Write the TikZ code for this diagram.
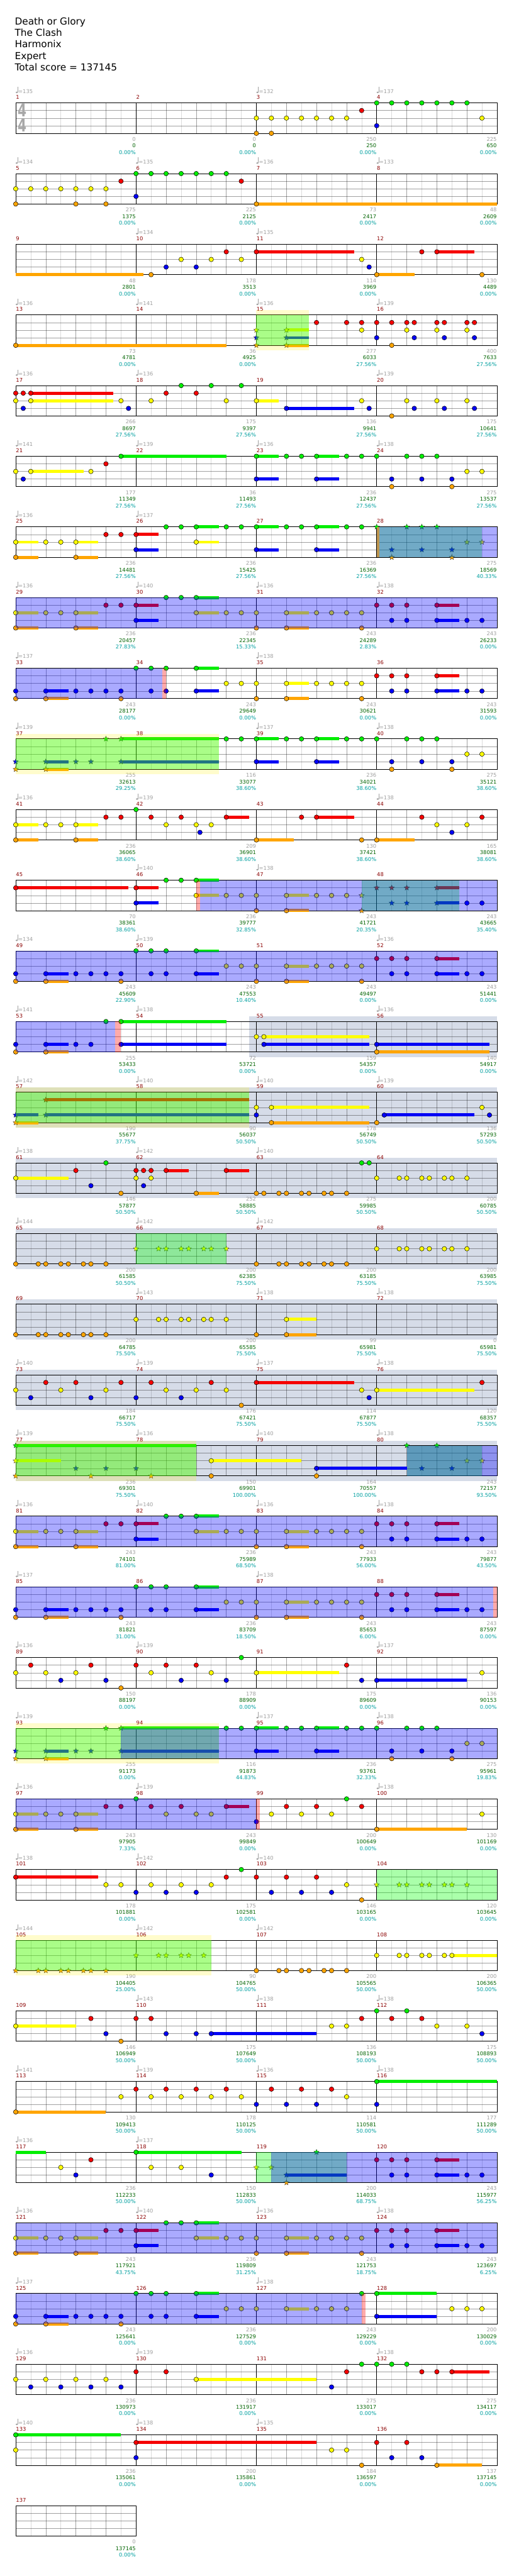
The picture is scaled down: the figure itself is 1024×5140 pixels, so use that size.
\documentclass[tikz,border=0pt]{standalone}
\usepackage{fontspec}
\setmainfont{DejaVu Sans}
\usetikzlibrary{shapes.geometric}
\pgfdeclarelayer{bands}
\pgfdeclarelayer{grid}
\pgfdeclarelayer{sus}
\pgfdeclarelayer{over}
\pgfsetlayers{bands,grid,sus,main,over}
\definecolor{lane0}{RGB}{0,238,0}
\definecolor{lane1}{RGB}{245,0,0}
\definecolor{lane2}{RGB}{255,255,0}
\definecolor{lane3}{RGB}{0,0,245}
\definecolor{lane4}{RGB}{255,165,0}
\definecolor{mnum}{RGB}{139,0,0}
\definecolor{tgray}{RGB}{160,160,160}
\definecolor{sgreen}{RGB}{0,100,0}
\definecolor{pteal}{RGB}{0,160,160}
\definecolor{gbband}{RGB}{214,220,232}
\definecolor{tsgray}{RGB}{168,168,168}
\definecolor{tanstrip}{RGB}{190,150,80}
\newcommand\smallf{\fontsize{14.9}{18}\selectfont}
\newcommand\titlef{\fontsize{27.3}{33}\selectfont}
\newcommand\tsf{\fontsize{50}{60}\selectfont\bfseries}
\tikzset{
  lline/.style={draw=black,draw opacity=0.14,line width=1pt},
  dline/.style={draw=black,draw opacity=0.37,line width=1pt},
  mline/.style={draw=black,line width=1.5pt},
  notest/.style={draw=black,line width=0.9pt},
  starst/.style={star,star points=5,star point ratio=2.2,minimum size=16pt,inner sep=0pt,draw=black!80,line width=0.6pt},
  lbst/.style={anchor=base east,inner sep=0pt,font=\smallf},
  mnst/.style={anchor=base west,inner sep=0pt,font=\smallf,text=mnum},
  tpst/.style={anchor=base west,inner sep=0pt,font=\smallf,text=tgray},
  titlest/.style={anchor=base west,inner sep=0pt,font=\titlef},
}
\newcommand\cRow[3]{%
  \pgfmathsetmacro\ry{205.33+141*#1}%
  \begin{pgfonlayer}{grid}
  \pgfmathtruncatemacro\nb{8*#2-1}%
  \foreach \j in {1,...,\nb}{%
    \pgfmathtruncatemacro\mA{mod(\j,8)}%
    \pgfmathtruncatemacro\mB{mod(\j,2)}%
    \ifnum\mA=0 \def\gs{mline}\else\ifnum\mB=0 \def\gs{dline}\else\def\gs{lline}\fi\fi
    \draw[\gs] ({31.33+30*\j},\ry) -- ({31.33+30*\j},{\ry+60.67});
  }
  \foreach \i in {1,2,3} \draw[dline] (31.33,{\ry+15.17*\i}) -- ({31.33+240*#2},{\ry+15.17*\i});
  \draw[mline] (31.33,\ry) rectangle ({31.33+240*#2},{\ry+60.67});
  \end{pgfonlayer}
  \pgfmathtruncatemacro\nm{#2-1}%
  \foreach \k in {0,...,\nm}{%
    \pgfmathtruncatemacro\mnr{#3+\k}%
    \node[mnst] at ({31.83+240*\k},{\ry-7.3}) {\mnr};
  }%
}
\newcommand\cTp[2]{%
  \fill[tgray] ({33.33+240*#1},{\ry-21}) ellipse [x radius=2.3, y radius=1.7];
  \draw[tgray,line width=0.9pt] ({35.4+240*#1},{\ry-21}) -- ({35.4+240*#1},{\ry-32});
  \node[tpst] at ({36.5+240*#1},{\ry-19.6}) {=#2};}
\newcommand\cLb[4]{%
  \node[lbst,text=tgray] at ({270.8+240*#1},{\ry+76.3}) {#2};
  \node[lbst,text=sgreen] at ({270.8+240*#1},{\ry+89.4}) {#3};
  \node[lbst,text=pteal] at ({270.8+240*#1},{\ry+102.6}) {#4};}
\newcommand\cNt[2]{\filldraw[fill=lane#2,notest] ({31.33+15*#1},{\ry+15.17*#2}) circle [radius=4.6];}
\newcommand\cSb[3]{\begin{pgfonlayer}{sus}\fill[lane#2] ({31.33+15*#1},{\ry+15.17*#2-3.1}) rectangle ({31.33+15*#3},{\ry+15.17*#2+3.1});\end{pgfonlayer}}
\newcommand\cNs[3]{\cSb{#1}{#2}{#3}\cNt{#1}{#2}}
\newcommand\cSr[2]{\node[starst,fill=lane#2] at ({31.33+15*#1},{\ry+15.17*#2}) {};}
\newcommand\cSs[3]{\cSb{#1}{#2}{#3}\cSr{#1}{#2}}
\newcommand\cNm[2]{\foreach \u in {#2} {\cNt{\u}{#1}}}
\newcommand\cSm[2]{\foreach \u in {#2} {\cSr{\u}{#1}}}
\newcommand\cOD[2]{\begin{pgfonlayer}{over}\fill[blue,fill opacity=0.333] ({31.33+15*#1},\ry) rectangle ({31.33+15*#2},{\ry+60.67});\end{pgfonlayer}}
\newcommand\cGR[2]{\begin{pgfonlayer}{over}\fill[green,fill opacity=0.333] ({31.33+15*#1},\ry) rectangle ({31.33+15*#2},{\ry+60.67});\end{pgfonlayer}}
\newcommand\cYB[2]{\begin{pgfonlayer}{over}\fill[yellow,fill opacity=0.2] ({31.33+15*#1},{\ry-10}) rectangle ({31.33+15*#2},{\ry+70.67});\end{pgfonlayer}}
\newcommand\cPK[2]{\begin{pgfonlayer}{over}\fill[red,fill opacity=0.333] ({31.33+15*#1},\ry) rectangle ({31.33+15*#2},{\ry+60.67});\end{pgfonlayer}}
\newcommand\cTan[2]{\begin{pgfonlayer}{over}\fill[tanstrip] ({31.33+15*#1},\ry) rectangle ({31.33+15*#2},{\ry+60.67});\end{pgfonlayer}}
\newcommand\cGB[2]{\begin{pgfonlayer}{bands}\fill[gbband] ({31.33+15*#1},{\ry-10}) rectangle ({31.33+15*#2},{\ry+70.67});\end{pgfonlayer}}
% common phrase patterns
\newcommand\cPatA{\cNs{0}{2}{3}\cNs{0}{4}{3}\cNm{2}{4,6}\cNs{8}{2}{11}\cNs{8}{4}{11}\cNm{1}{12,14}\cNs{16}{1}{19}\cNs{16}{3}{19}\cNm{0}{20,22}\cNs{24}{0}{27}\cNs{24}{2}{27}}
\newcommand\cPatB{\cNt{0}{3}\cNt{0}{4}\cNs{4}{3}{7}\cNs{4}{4}{7}\cNm{3}{8,10,12,14}\cNt{14}{4}\cNm{0}{16,18,20}\cNm{3}{18,20}\cNs{24}{0}{27}\cNs{24}{3}{27}}
\newcommand\cPatC{\cNm{2}{28,30,32}\cNt{32}{4}\cNs{36}{2}{39}\cNs{36}{4}{39}\cNm{2}{40,42,44,46}\cNt{46}{4}\cNm{1}{48,50,52}\cNs{56}{1}{59}\cNm{3}{50,52,60,62}\cNs{56}{3}{59}}
\newcommand\cPatD{\cNm{0}{28,30}\cNs{32}{0}{35}\cNs{32}{3}{35}\cNm{0}{36,38}\cNs{40}{0}{43}\cNs{40}{3}{43}\cNm{0}{44,46,48,52,54,56}\cNm{3}{50,54,58}\cNm{4}{50,58}\cNm{2}{60,62}}
\begin{document}
\begin{tikzpicture}[x=0.5mm,y=-0.5mm]
\begin{pgfonlayer}{bands}
\fill[white] (0,0) rectangle (1024,5140);
\end{pgfonlayer}
\useasboundingbox (0,0) rectangle (1024,5140);
\node[titlest] at (29.5,49) {Death or Glory};
\node[titlest] at (29.5,72.3) {The Clash};
\node[titlest] at (29.5,95.3) {Harmonix};
\node[titlest] at (29.5,118.3) {Expert};
\node[titlest] at (29.5,141.3) {Total score = 137145};
\node[text=tsgray,font=\tsf,xscale=0.72,inner sep=0] at (44,220) {4};
\node[text=tsgray,font=\tsf,xscale=0.72,inner sep=0] at (44,250) {4};
% ---------- row 0 : m1-4
\cRow{0}{4}{1}
\cTp{0}{135}\cTp{2}{132}\cTp{3}{137}
\cNm{2}{32,34,...,44}\cNm{4}{32,34}\cNt{46}{1}\cNm{0}{48,50,...,60}\cNt{48}{3}\cNt{62}{2}
\cLb{0}{0}{0}{0.00\%}\cLb{1}{0}{0}{0.00\%}\cLb{2}{250}{250}{0.00\%}\cLb{3}{225}{650}{0.00\%}
% ---------- row 1 : m5-8
\cRow{1}{4}{5}
\cTp{0}{134}\cTp{1}{135}\cTp{2}{136}\cTp{3}{133}
\cNm{2}{0,2,...,12}\cNm{4}{0,8,12}\cNt{14}{1}\cNm{0}{16,18,...,28}\cNt{16}{3}\cNt{30}{1}\cNs{32}{4}{64}
\cLb{0}{275}{1375}{0.00\%}\cLb{1}{225}{2125}{0.00\%}\cLb{2}{73}{2417}{0.00\%}\cLb{3}{48}{2609}{0.00\%}
% ---------- row 2 : m9-12
\cRow{2}{4}{9}
\cTp{1}{134}\cTp{2}{135}
\cSb{0}{4}{17}\cNt{18}{4}\cNm{3}{20,24}\cNm{2}{22,26,30}\cNt{28}{1}\cNs{32}{1}{45}\cNt{46}{2}\cNt{47}{3}
\cNs{48}{4}{53}\cNt{54}{1}\cNs{56}{1}{61}\cNt{62}{4}
\cLb{0}{48}{2801}{0.00\%}\cLb{1}{178}{3513}{0.00\%}\cLb{2}{114}{3969}{0.00\%}\cLb{3}{130}{4489}{0.00\%}
% ---------- row 3 : m13-16
\cRow{3}{4}{13}
\cTp{0}{136}\cTp{1}{141}\cTp{2}{136}\cTp{3}{139}
\cNs{0}{4}{28}
\cYB{32}{39}\cGR{32}{39}
\cSm{2}{32}\cSm{3}{32}\cSm{4}{32}\cSs{36}{2}{39}\cSs{36}{3}{39}\cSs{36}{4}{39}
\cNm{1}{40,44,46,48,50,52,53,56,57,60,61}\cNm{2}{46,52,56,60}\cNm{3}{48,53,57,61}\cNt{50}{4}
\cLb{0}{73}{4781}{0.00\%}\cLb{1}{36}{4925}{0.00\%}\cLb{2}{277}{6033}{27.56\%}\cLb{3}{400}{7633}{27.56\%}
% ---------- row 4 : m17-20
\cRow{4}{4}{17}
\cTp{0}{136}\cTp{1}{136}\cTp{3}{139}
\cNm{1}{0,1}\cNs{2}{1}{13}\cNt{0}{2}\cNs{2}{2}{13}\cNt{1}{3}\cNt{14}{2}\cNt{15}{3}
\cNm{2}{18,28}\cNm{1}{20,24}\cNm{0}{22,26,30}
\cNs{32}{2}{35}\cNs{36}{3}{45}\cNm{2}{46,52,56,60}\cNm{3}{47,53,57,61}\cNt{50}{4}
\cLb{0}{266}{8697}{27.56\%}\cLb{1}{175}{9397}{27.56\%}\cLb{2}{136}{9941}{27.56\%}\cLb{3}{175}{10641}{27.56\%}
% ---------- row 5 : m21-24
\cRow{5}{4}{21}
\cTp{0}{141}\cTp{1}{139}\cTp{2}{136}\cTp{3}{138}
\cNt{0}{2}\cNs{2}{2}{9}\cNt{1}{3}\cNt{10}{2}\cNt{12}{1}\cNs{14}{0}{28}
\cNs{32}{0}{35}\cNs{32}{3}{35}\cNm{0}{36,38}\cNs{40}{0}{43}\cNs{40}{3}{43}\cNm{0}{44,46,48,52,54,56}
\cNm{3}{50,54,58}\cNm{4}{50,58}\cNm{2}{60,62}
\cLb{0}{177}{11349}{27.56\%}\cLb{1}{36}{11493}{27.56\%}\cLb{2}{236}{12437}{27.56\%}\cLb{3}{275}{13537}{27.56\%}
% ---------- row 6 : m25-28
\cRow{6}{4}{25}
\cTp{0}{136}\cTp{1}{137}
\cPatA\cNm{0}{28,30}\cNs{32}{0}{35}\cNs{32}{3}{35}\cNm{0}{36,38}
\cNs{40}{0}{43}\cNs{40}{3}{43}\cNm{0}{44,46}
\cSm{0}{48,52,54,56}\cSm{3}{50,54,58}\cSm{4}{50,58}\cSm{2}{60,62}
\cGR{48}{62}\cOD{48}{64}\cTan{48}{48.35}
\cLb{0}{236}{14481}{27.56\%}\cLb{1}{236}{15425}{27.56\%}\cLb{2}{236}{16369}{27.56\%}\cLb{3}{275}{18569}{40.33\%}
% ---------- row 7 : m29-32
\cRow{7}{4}{29}
\cTp{0}{136}\cTp{1}{140}\cTp{2}{136}\cTp{3}{138}
\cPatA\cPatC
\cOD{0}{64}
\cLb{0}{236}{20457}{27.83\%}\cLb{1}{236}{22345}{15.33\%}\cLb{2}{243}{24289}{2.83\%}\cLb{3}{243}{26233}{0.00\%}
% ---------- row 8 : m33-36
\cRow{8}{4}{33}
\cTp{0}{137}\cTp{2}{138}
\cPatB\cPatC
\cOD{0}{19.5}\cPK{19.5}{20}
\cLb{0}{243}{28177}{0.00\%}\cLb{1}{243}{29649}{0.00\%}\cLb{2}{243}{30621}{0.00\%}\cLb{3}{243}{31593}{0.00\%}
% ---------- row 9 : m37-40
\cRow{9}{4}{37}
\cTp{0}{139}\cTp{2}{137}\cTp{3}{138}
\cYB{0}{27}\cGR{0}{27}
\cSm{3}{0}\cSm{4}{0}\cSs{4}{3}{7}\cSs{4}{4}{7}\cSm{3}{8,10}\cSm{0}{12}\cSs{14}{0}{27}\cSs{14}{3}{27}
\cPatD
\cLb{0}{255}{32613}{29.25\%}\cLb{1}{116}{33077}{38.60\%}\cLb{2}{236}{34021}{38.60\%}\cLb{3}{275}{35121}{38.60\%}
% ---------- row 10 : m41-44
\cRow{10}{4}{41}
\cTp{0}{136}\cTp{1}{139}\cTp{3}{138}
\cNs{0}{2}{3}\cNs{0}{4}{3}\cNm{2}{4,6}\cNs{8}{2}{11}\cNs{8}{4}{11}\cNm{1}{12,14,18,22}\cNt{16}{0}
\cNm{2}{20,24,26}\cNt{24.5}{3}\cNs{28}{1}{31}\cNs{32}{4}{37}\cNt{38}{1}\cNs{40}{1}{45}\cNt{46}{4}
\cNs{48}{4}{53}\cNm{1}{54,62}\cNm{2}{56,60}\cNt{58}{3}
\cLb{0}{236}{36065}{38.60\%}\cLb{1}{209}{36901}{38.60\%}\cLb{2}{130}{37421}{38.60\%}\cLb{3}{165}{38081}{38.60\%}
% ---------- row 11 : m45-48
\cRow{11}{4}{45}
\cTp{1}{140}\cTp{2}{138}
\cNs{0}{1}{15}\cNs{16}{1}{19}\cNs{16}{3}{19}\cNm{0}{20,22}\cNs{24}{0}{27}\cNs{24}{2}{27}
\cNm{2}{28,30,32}\cNt{32}{4}\cNs{36}{2}{39}\cNs{36}{4}{39}\cNm{2}{40,42,44}
\cSm{2}{46}\cSm{4}{46}\cSm{1}{48,50,52}\cSs{56}{1}{59}\cSm{3}{50,52}\cSs{56}{3}{59}\cNm{3}{60,62}
\cPK{24}{24.5}\cGR{46}{59}\cOD{24.5}{64}
\cLb{0}{70}{38361}{38.60\%}\cLb{1}{236}{39777}{32.85\%}\cLb{2}{243}{41721}{20.35\%}\cLb{3}{243}{43665}{35.40\%}
% ---------- row 12 : m49-52
\cRow{12}{4}{49}
\cTp{0}{134}\cTp{1}{139}\cTp{3}{136}
\cPatB\cPatC
\cOD{0}{64}
\cLb{0}{243}{45609}{22.90\%}\cLb{1}{243}{47553}{10.40\%}\cLb{2}{243}{49497}{0.00\%}\cLb{3}{243}{51441}{0.00\%}
% ---------- row 13 : m53-56
\cRow{13}{4}{53}
\cTp{0}{141}\cTp{1}{138}\cTp{3}{136}
\cGB{31}{64}
\cNt{0}{3}\cNt{0}{4}\cNs{4}{3}{7}\cNs{4}{4}{7}\cNm{3}{8,10}\cNt{12}{0}\cNs{14}{0}{28}\cNs{14}{3}{28}
\cNt{32}{2}\cNs{33}{2}{47}\cNs{33}{3}{47}\cNs{48}{3}{63}\cNs{48}{4}{63}
\cOD{0}{13.25}\cPK{13.25}{14}
\cLb{0}{255}{53433}{0.00\%}\cLb{1}{72}{53721}{0.00\%}\cLb{2}{159}{54357}{0.00\%}\cLb{3}{140}{54917}{0.00\%}
% ---------- row 14 : m57-60
\cRow{14}{4}{57}
\cTp{0}{142}\cTp{1}{140}\cTp{2}{140}\cTp{3}{139}
\cGB{0}{64}\cYB{0}{31}\cGR{0}{31}
\cSs{0}{3}{3}\cSs{0}{4}{3}\cSs{4}{1}{31}\cSs{4}{3}{31}
\cNt{32}{2}\cNt{32}{3}\cNs{34}{2}{47}\cNs{34}{4}{47}\cNt{48}{4}\cNs{49}{3}{61}\cNt{62}{2}\cNt{63}{3}
\cLb{0}{190}{55677}{37.75\%}\cLb{1}{90}{56037}{50.50\%}\cLb{2}{178}{56749}{50.50\%}\cLb{3}{136}{57293}{50.50\%}
% ---------- row 15 : m61-64
\cRow{15}{4}{61}
\cTp{0}{138}\cTp{1}{142}\cTp{2}{140}
\cGB{0}{64}
\cNs{0}{2}{7}\cNt{8}{1}\cNt{10}{3}\cNt{12}{0}\cNt{14}{4}\cNm{1}{16,17,18}\cNm{2}{16,18}\cNt{17}{3}
\cNs{20}{1}{23}\cNs{24}{4}{27}\cNs{28}{1}{31}\cNm{4}{32,33,35,36,38,39,41,42,44}\cNm{0}{46,47}
\cNm{2}{48,51,52,54,55,57,58,60}
\cLb{0}{146}{57877}{50.50\%}\cLb{1}{252}{58885}{50.50\%}\cLb{2}{275}{59985}{50.50\%}\cLb{3}{200}{60785}{50.50\%}
% ---------- row 16 : m65-68
\cRow{16}{4}{65}
\cTp{0}{144}\cTp{1}{142}\cTp{2}{142}
\cGB{0}{64}\cGR{16}{28}
\cNm{4}{0,3,4,6,7,9,10,12}\cSm{2}{16,19,20,22,23,25,26,28}\cNm{4}{32,35,36,38,39,41,42,44}
\cNm{2}{48,51,52,54,55,57,58,60}
\cLb{0}{200}{61585}{50.50\%}\cLb{1}{200}{62385}{75.50\%}\cLb{2}{200}{63185}{75.50\%}\cLb{3}{200}{63985}{75.50\%}
% ---------- row 17 : m69-72
\cRow{17}{4}{69}
\cTp{1}{143}\cTp{2}{138}\cTp{3}{138}
\cGB{0}{64}
\cNm{4}{0,3,4,6,7,9,10,12}\cNm{2}{16,19,20,22,23,25,26,28}\cNt{32}{4}\cNs{36}{2}{40}\cNs{36}{4}{40}
\cLb{0}{200}{64785}{75.50\%}\cLb{1}{200}{65585}{75.50\%}\cLb{2}{99}{65981}{75.50\%}\cLb{3}{0}{65981}{75.50\%}
% ---------- row 18 : m73-76
\cRow{18}{4}{73}
\cTp{0}{140}\cTp{1}{139}\cTp{2}{137}\cTp{3}{138}
\cGB{0}{64}
\cNm{2}{0,6,12}\cNm{3}{2,10}\cNm{1}{4,8,14}\cNm{3}{16,22}\cNm{1}{18,26}\cNm{2}{20,24,28}\cNt{30}{4}
\cNs{32}{1}{45}\cNt{46}{2}\cNt{47}{3}\cNs{48}{2}{61}\cNt{62}{1}
\cLb{0}{184}{66717}{75.50\%}\cLb{1}{176}{67421}{75.50\%}\cLb{2}{114}{67877}{75.50\%}\cLb{3}{120}{68357}{75.50\%}
% ---------- row 19 : m77-80
\cRow{19}{4}{77}
\cTp{0}{139}\cTp{1}{136}\cTp{2}{140}\cTp{3}{138}
\cGB{0}{64}\cYB{0}{24}\cGR{0}{24}
\cSs{0}{0}{24}\cSs{0}{2}{6}\cSm{4}{0}\cSm{3}{8,12,16}\cSm{4}{10,18}
\cNs{26}{2}{38}\cNt{26}{4}\cNs{40}{3}{52}\cNt{40}{4}
\cSm{0}{52,56}\cSm{3}{54,58}\cSm{2}{60,62}
\cGR{52}{62}\cOD{52}{64}
\cLb{0}{236}{69301}{75.50\%}\cLb{1}{150}{69901}{100.00\%}\cLb{2}{164}{70557}{100.00\%}\cLb{3}{243}{72157}{93.50\%}
% ---------- row 20 : m81-84
\cRow{20}{4}{81}
\cTp{0}{136}\cTp{1}{140}\cTp{2}{136}\cTp{3}{138}
\cPatA\cPatC
\cOD{0}{64}
\cLb{0}{243}{74101}{81.00\%}\cLb{1}{236}{75989}{68.50\%}\cLb{2}{243}{77933}{56.00\%}\cLb{3}{243}{79877}{43.50\%}
% ---------- row 21 : m85-88
\cRow{21}{4}{85}
\cTp{0}{137}\cTp{2}{138}
\cPatB\cPatC
\cOD{0}{63.5}\cPK{63.5}{64}
\cLb{0}{243}{81821}{31.00\%}\cLb{1}{236}{83709}{18.50\%}\cLb{2}{243}{85653}{6.00\%}\cLb{3}{243}{87597}{0.00\%}
% ---------- row 22 : m89-92
\cRow{22}{4}{89}
\cTp{0}{136}\cTp{1}{139}\cTp{3}{137}
\cNm{2}{0,4,8}\cNm{1}{2,10}\cNm{3}{6,12}\cNt{14}{4}\cNm{1}{16,20,24}\cNm{2}{18,26}\cNm{3}{22,28}\cNt{30}{0}
\cNs{32}{2}{43}\cNt{44}{1}\cNt{46}{3}\cNs{48}{3}{60}\cNt{62}{2}
\cLb{0}{150}{88197}{0.00\%}\cLb{1}{178}{88909}{0.00\%}\cLb{2}{175}{89609}{0.00\%}\cLb{3}{136}{90153}{0.00\%}
% ---------- row 23 : m93-96
\cRow{23}{4}{93}
\cTp{0}{139}\cTp{2}{137}\cTp{3}{138}
\cYB{0}{27}\cGR{0}{27}
\cSm{3}{0}\cSm{4}{0}\cSs{4}{3}{7}\cSs{4}{4}{7}\cSm{3}{8,10}\cSm{0}{12}\cSs{14}{0}{27}\cSs{14}{3}{27}
\cPatD
\cOD{14}{64}
\cLb{0}{255}{91173}{0.00\%}\cLb{1}{116}{91873}{44.83\%}\cLb{2}{236}{93761}{32.33\%}\cLb{3}{275}{95961}{19.83\%}
% ---------- row 24 : m97-100
\cRow{24}{4}{97}
\cTp{0}{136}\cTp{1}{139}\cTp{3}{138}
\cNs{0}{2}{3}\cNs{0}{4}{3}\cNm{2}{4,6}\cNs{8}{2}{11}\cNs{8}{4}{11}\cNm{1}{12,14,18,22}\cNt{16}{0}
\cNm{2}{20,24,26}\cNs{28}{1}{31}
\cNt{32}{3}\cNm{1}{36,40}\cNm{2}{34,38,42}\cNt{44}{0}\cNt{46}{1}\cNs{48}{4}{60}\cNt{62}{2}
\cOD{0}{32}\cPK{32}{32.5}
\cLb{0}{243}{97905}{7.33\%}\cLb{1}{243}{99849}{0.00\%}\cLb{2}{200}{100649}{0.00\%}\cLb{3}{130}{101169}{0.00\%}
% ---------- row 25 : m101-104
\cRow{25}{4}{101}
\cTp{0}{138}\cTp{1}{142}\cTp{2}{140}
\cNs{0}{1}{11}\cNm{2}{12,14}\cNm{3}{16,20,24}\cNm{2}{18,22,26}\cNt{28}{1}\cNt{30}{0}
\cNm{1}{32,36,40}\cNm{3}{34,38,42}\cNt{44}{2}\cNt{46}{4}
\cGR{48}{64}\cSm{2}{48,51,52,54,55,57,58,60}
\cLb{0}{178}{101881}{0.00\%}\cLb{1}{175}{102581}{0.00\%}\cLb{2}{146}{103165}{0.00\%}\cLb{3}{120}{103645}{0.00\%}
% ---------- row 26 : m105-108
\cRow{26}{4}{105}
\cTp{0}{144}\cTp{1}{142}\cTp{2}{142}
\cYB{0}{26}\cGR{0}{26}
\cSm{4}{0,3,4,6,7,9,10,12}\cSm{2}{16,19,20,22,23,25}
\cNm{4}{32,35,36,38,39,41,42,44}\cNm{2}{48,51,52,54,55,57}\cNs{58}{2}{64}
\cLb{0}{190}{104405}{25.00\%}\cLb{1}{90}{104765}{50.00\%}\cLb{2}{200}{105565}{50.00\%}\cLb{3}{200}{106365}{50.00\%}
% ---------- row 27 : m109-112
\cRow{27}{4}{109}
\cTp{1}{143}\cTp{2}{138}\cTp{3}{138}
\cNs{0}{2}{8}\cNt{10}{1}\cNt{12}{3}\cNt{14}{4}\cNm{1}{16,18}\cNm{3}{20,24}\cNs{26}{3}{40}
\cNm{2}{42,44}\cNt{46}{1}\cNm{0}{48,52}\cNm{1}{50,54}\cNm{2}{56,60}\cNt{62}{3}
\cLb{0}{146}{106949}{50.00\%}\cLb{1}{175}{107649}{50.00\%}\cLb{2}{136}{108193}{50.00\%}\cLb{3}{175}{108893}{50.00\%}
% ---------- row 28 : m113-116
\cRow{28}{4}{113}
\cTp{0}{141}\cTp{1}{139}\cTp{2}{136}\cTp{3}{138}
\cNs{0}{4}{12}\cNt{14}{2}\cNm{1}{16,20,24,28}\cNm{2}{18,22,26,30}
\cNm{3}{32,36,40}\cNm{1}{34,38,42}\cNt{44}{2}\cNs{48}{0}{64}\cNt{48}{3}
\cLb{0}{130}{109413}{50.00\%}\cLb{1}{178}{110125}{50.00\%}\cLb{2}{114}{110581}{50.00\%}\cLb{3}{177}{111289}{50.00\%}
% ---------- row 29 : m117-120
\cRow{29}{4}{117}
\cTp{0}{136}\cTp{1}{137}
\cSb{0}{0}{4}\cNt{6}{2}\cNt{8}{3}\cNt{10}{1}\cNs{16}{0}{30}\cNm{2}{18,22}\cNt{26}{3}
\cSm{2}{32,34}\cSs{36}{3}{44}\cSm{4}{36}\cSm{0}{40}
\cNm{1}{48,50,52}\cNs{56}{1}{59}\cNm{3}{50,52,60,62}\cNs{56}{3}{59}
\cGR{32}{44}\cOD{34}{64}
\cLb{0}{236}{112233}{50.00\%}\cLb{1}{150}{112833}{50.00\%}\cLb{2}{200}{114033}{68.75\%}\cLb{3}{243}{115977}{56.25\%}
% ---------- row 30 : m121-124
\cRow{30}{4}{121}
\cTp{0}{136}\cTp{1}{140}\cTp{2}{136}\cTp{3}{138}
\cPatA\cPatC
\cOD{0}{64}
\cLb{0}{243}{117921}{43.75\%}\cLb{1}{236}{119809}{31.25\%}\cLb{2}{243}{121753}{18.75\%}\cLb{3}{243}{123697}{6.25\%}
% ---------- row 31 : m125-128
\cRow{31}{4}{125}
\cTp{0}{137}\cTp{2}{138}
\cPatB\cNm{2}{28,30,32}\cNs{36}{2}{39}\cNm{2}{40,42,44}\cNt{46}{0}
\cNs{48}{0}{56}\cNs{48}{3}{56}\cNm{2}{58,60,62}
\cOD{0}{46}\cPK{46}{46.5}
\cLb{0}{243}{125641}{0.00\%}\cLb{1}{236}{127529}{0.00\%}\cLb{2}{243}{129229}{0.00\%}\cLb{3}{200}{130029}{0.00\%}
% ---------- row 32 : m129-132
\cRow{32}{4}{129}
\cTp{0}{136}\cTp{1}{139}\cTp{3}{138}
\cNm{2}{0,4,8,12}\cNm{3}{2,6,10,14}\cNm{1}{16,20}\cNs{24}{2}{40}\cNt{42}{3}\cNt{44}{1}\cNt{46}{0}
\cNm{0}{48,50,52}\cNm{1}{54,56}\cNs{58}{1}{63}
\cLb{0}{236}{130973}{0.00\%}\cLb{1}{236}{131917}{0.00\%}\cLb{2}{275}{133017}{0.00\%}\cLb{3}{275}{134117}{0.00\%}
% ---------- row 33 : m133-136
\cRow{33}{4}{133}
\cTp{0}{140}\cTp{1}{138}\cTp{2}{135}
\cNs{0}{0}{14}\cNt{0}{2}\cNs{16}{1}{40}\cNt{16}{3}\cNm{2}{42,44}\cNt{46}{4}
\cNm{1}{48,52}\cNm{3}{50,54}\cNs{56}{4}{62}
\cLb{0}{236}{135061}{0.00\%}\cLb{1}{200}{135861}{0.00\%}\cLb{2}{184}{136597}{0.00\%}\cLb{3}{137}{137145}{0.00\%}
% ---------- row 34 : m137
\cRow{34}{1}{137}
\cLb{0}{0}{137145}{0.00\%}
\end{tikzpicture}
\end{document}
